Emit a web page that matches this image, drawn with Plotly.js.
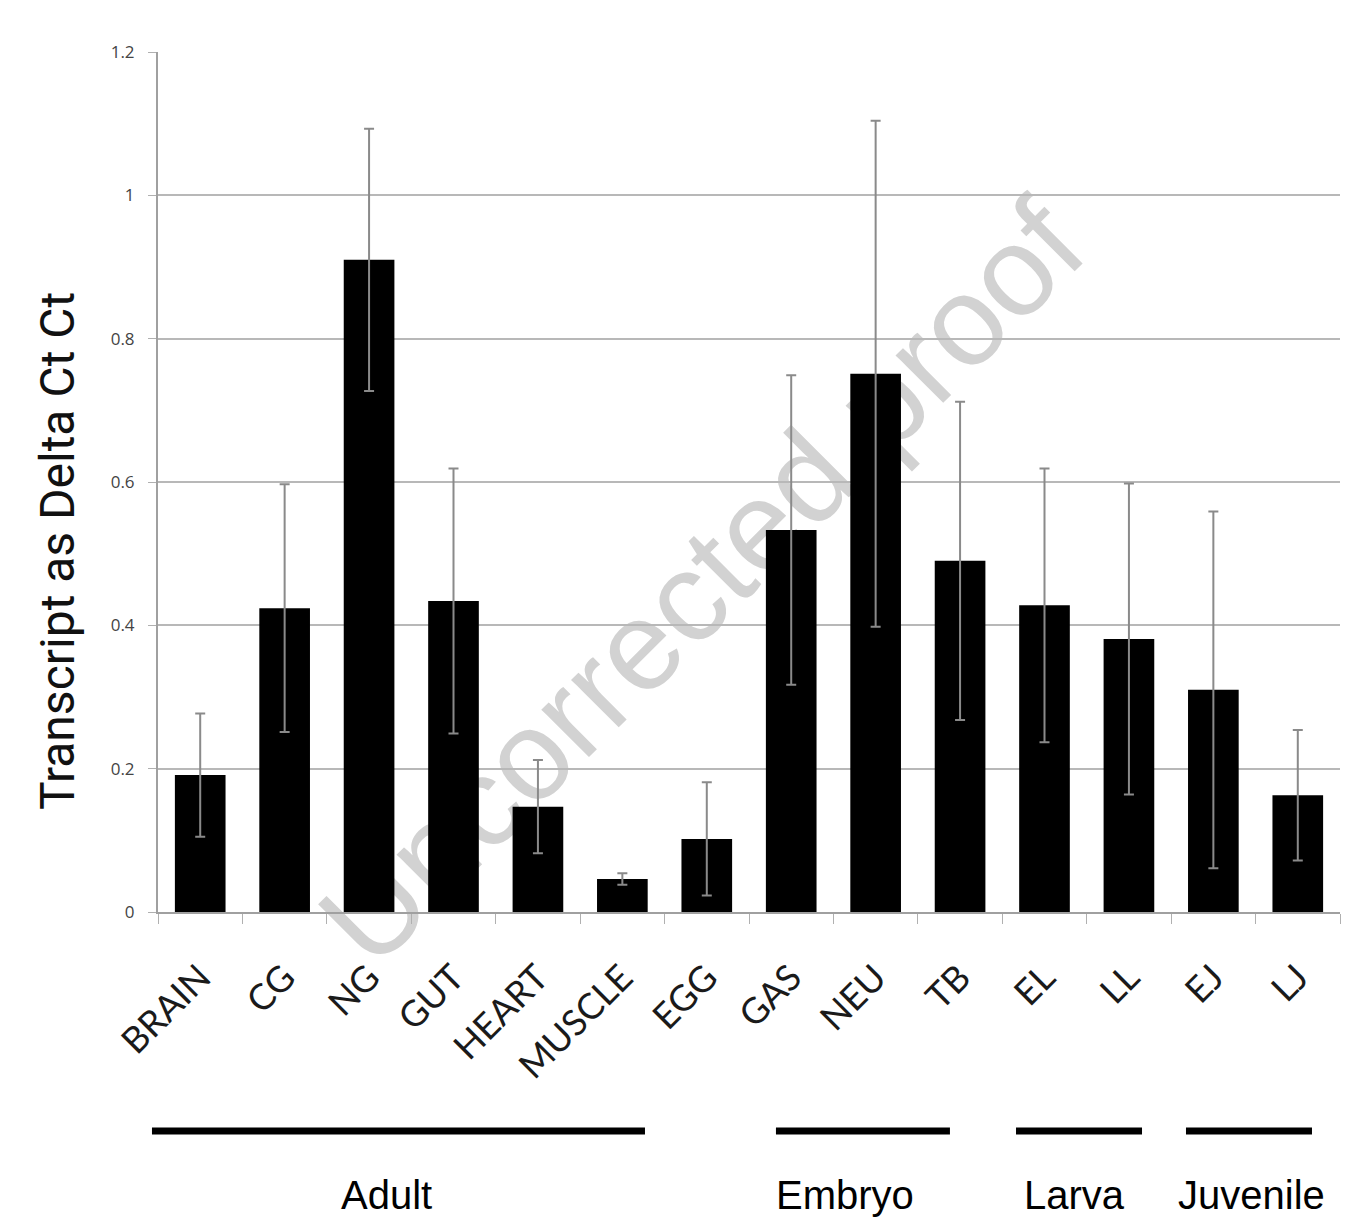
<!DOCTYPE html>
<html>
<head>
<meta charset="utf-8">
<script src="https://cdn.plot.ly/plotly-3.0.1.min.js"></script>
<style>html,body{margin:0;padding:0;background:#fff;}#chart{width:1372px;height:1226px;}</style>
</head>
<body>
<div id="chart"></div>
<script>
const categories = ["BRAIN","CG","NG","GUT","HEART","MUSCLE","EGG","GAS","NEU","TB","EL","LL","EJ","LJ"];
const values = [0.191,0.424,0.910,0.434,0.147,0.046,0.102,0.533,0.751,0.490,0.428,0.381,0.310,0.163];
const errors = [0.086,0.173,0.183,0.185,0.065,0.008,0.079,0.216,0.353,0.222,0.191,0.217,0.249,0.091];
const yTicks = [0,0.2,0.4,0.6,0.8,1,1.2];
const yTickLabels = ["0","0.2","0.4","0.6","0.8","1","1.2"];
const groupNames = ["Adult","Embryo","Larva","Juvenile"];
const groupLineStart = [-0.0051,0.5228,0.7259,0.8697];
const groupLineEnd = [0.412,0.670,0.8325,0.9763];
const groupLabelX = [0.1929,0.5816,0.775,0.9255];
const yTitle = "Transcript as Delta Ct Ct";
const watermark = "Uncorrected proof";

const trace = {
  type: "bar",
  x: categories,
  y: values,
  width: 0.6,
  marker: {color: "#000000", line: {width: 0}},
  error_y: {type: "data", array: errors, visible: true, color: "#8a8a8a", thickness: 2, width: 5},
  hoverinfo: "x+y"
};

const shapes = [];
const annotations = [];
groupNames.forEach((g, i) => {
  shapes.push({type: "line", xref: "paper", yref: "paper", x0: groupLineStart[i], x1: groupLineEnd[i], y0: -0.2547, y1: -0.2547,
    line: {color: "#000000", width: 7}});
  annotations.push({xref: "paper", yref: "paper", x: groupLabelX[i], y: -0.329, text: g,
    showarrow: false, xanchor: "center", yanchor: "middle",
    font: {family: "Liberation Sans, Arial, sans-serif", size: 40, color: "#000000"}});
});
annotations.push({xref: "paper", yref: "paper", x: -0.0846, y: 0.4198, text: yTitle, textangle: -90,
  showarrow: false, xanchor: "center", yanchor: "middle",
  font: {family: "Roboto, sans-serif", size: 48, color: "#111111"}});
shapes.push({type: "line", xref: "paper", yref: "paper", x0: 0.110, y0: -0.078, x1: 0.795, y1: 0.864,
  layer: "below", line: {color: "rgba(0,0,0,0)", width: 0},
  label: {text: watermark, textangle: -45, textposition: "middle", xanchor: "center", yanchor: "middle",
    font: {family: "Liberation Sans, Arial, sans-serif", size: 127, color: "#d2d2d2"}}});

const layout = {
  width: 1372, height: 1226,
  margin: {l: 158, r: 32, t: 52, b: 314},
  paper_bgcolor: "#ffffff",
  plot_bgcolor: "rgba(0,0,0,0)",
  showlegend: false,
  bargap: 0.4,
  xaxis: {
    type: "category",
    range: [-0.5, 13.5],
    autorange: false,
    tickangle: -45,
    tickfont: {family: "Lato, Open Sans, sans-serif", size: 36, color: "#1a1a1a"},
    ticks: "outside", tickson: "boundaries", ticklen: 10, tickcolor: "#b0b0b0", tickwidth: 1,
    ticklabelstandoff: 28,
    showline: true, linecolor: "#a0a0a0", linewidth: 2,
    showgrid: false, automargin: false
  },
  yaxis: {
    range: [0, 1.2],
    autorange: false,
    tickvals: yTicks, ticktext: yTickLabels,
    tickfont: {family: "Open Sans, sans-serif", size: 17, color: "#444444"},
    ticks: "outside", ticklen: 8, tickcolor: "#b0b0b0",
    ticklabelstandoff: 10,
    showgrid: true, gridcolor: "#b8b8b8", gridwidth: 2,
    showline: true, linecolor: "#a0a0a0", linewidth: 2,
    zeroline: false, automargin: false
  },
  shapes: shapes,
  annotations: annotations
};

Plotly.newPlot("chart", [trace], layout, {displayModeBar: false, staticPlot: true});
</script>
</body>
</html>
